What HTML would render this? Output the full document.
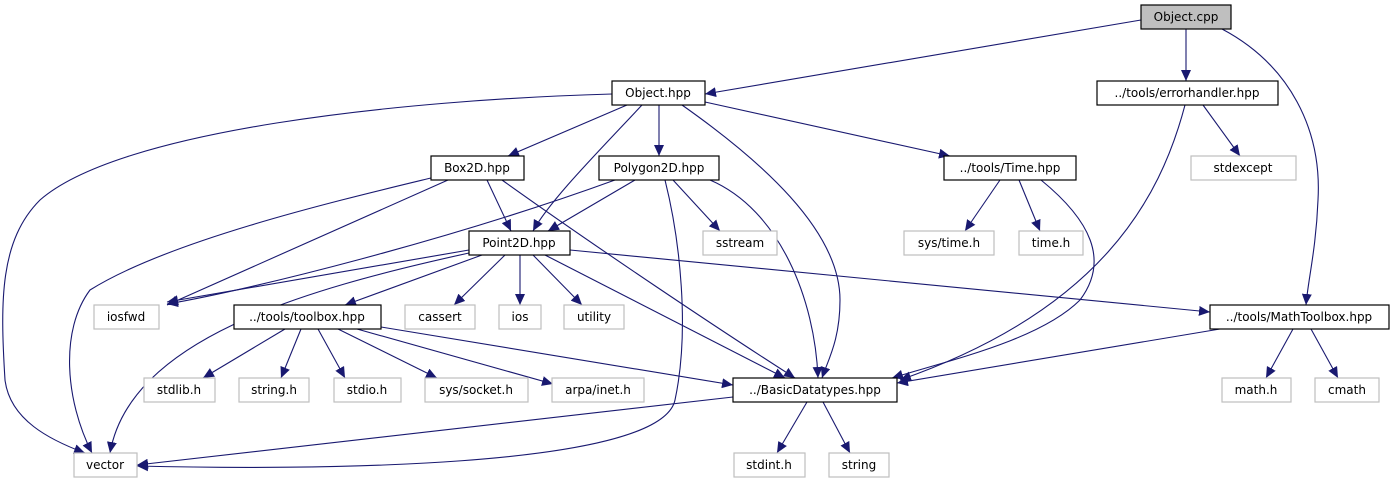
<!DOCTYPE html>
<html><head><meta charset="utf-8"><style>
html,body{margin:0;padding:0;background:#fff;}
svg{display:block;}
text{font-family:"DejaVu Sans","Liberation Sans",sans-serif;font-size:12px;fill:#000;text-anchor:middle;}
.n{fill:#fff;stroke:#000;stroke-width:1.2;}
.g{fill:#fff;stroke:#bfbfbf;stroke-width:1.2;}
.e{fill:none;stroke:#191970;stroke-width:1.1;}
</style></head><body>
<svg width="1393" height="485" viewBox="0 0 1393 485" xmlns="http://www.w3.org/2000/svg">
<defs><marker id="a" markerUnits="userSpaceOnUse" markerWidth="12" markerHeight="10" refX="11" refY="5" orient="auto"><path d="M0,0 L11,5 L0,10 z" fill="#191970"/></marker></defs>
<g marker-end="url(#a)">
<path class="e" d="M1141,20 L705,94"/>
<path class="e" d="M1186,29 L1186,81"/>
<path class="e" d="M1222,29 C1290,65 1322,130 1318,200 C1316,250 1308,280 1306,305"/>
<path class="e" d="M612,94 C400,100 120,130 40,200 C0,240 0,300 5,380 C10,420 50,440 85,453"/>
<path class="e" d="M627,105 L508,156"/>
<path class="e" d="M642,105 C600,150 550,200 533,231"/>
<path class="e" d="M659,105 L659,156"/>
<path class="e" d="M682,105 C760,160 840,230 840,300 C840,340 828,360 822,378"/>
<path class="e" d="M705,102 L950,156"/>
<path class="e" d="M1203,105 L1240,156"/>
<path class="e" d="M1185,105 C1160,200 1100,310 900,380"/>
<path class="e" d="M431,178 C340,200 170,240 90,290 C60,330 65,400 92,453"/>
<path class="e" d="M448,180 L167,305"/>
<path class="e" d="M487,180 L511,231"/>
<path class="e" d="M502,180 C600,250 720,330 795,378"/>
<path class="e" d="M615,180 C450,240 250,290 167,304"/>
<path class="e" d="M635,180 L548,231"/>
<path class="e" d="M673,180 L720,231"/>
<path class="e" d="M665,180 C680,240 690,330 675,400 C660,470 300,470 137,466"/>
<path class="e" d="M710,180 C780,210 815,300 818,378"/>
<path class="e" d="M1000,180 L965,231"/>
<path class="e" d="M1019,180 L1040,231"/>
<path class="e" d="M1041,180 C1090,220 1110,260 1080,300 C1040,340 950,360 892,378"/>
<path class="e" d="M469,250 L167,302"/>
<path class="e" d="M469,253 C300,290 130,340 110,453"/>
<path class="e" d="M482,255 L345,305"/>
<path class="e" d="M505,255 L454,305"/>
<path class="e" d="M520,255 L520,305"/>
<path class="e" d="M533,255 L582,305"/>
<path class="e" d="M545,255 L785,378"/>
<path class="e" d="M570,250 L1210,312"/>
<path class="e" d="M285,329 L203,378"/>
<path class="e" d="M301,329 L281,378"/>
<path class="e" d="M318,329 L345,378"/>
<path class="e" d="M338,329 L437,378"/>
<path class="e" d="M357,329 L553,384"/>
<path class="e" d="M381,327 L733,385"/>
<path class="e" d="M1220,329 L897,383"/>
<path class="e" d="M1293,329 L1266,378"/>
<path class="e" d="M1311,329 L1338,378"/>
<path class="e" d="M733,397 L137,465"/>
<path class="e" d="M807,402 L777,453"/>
<path class="e" d="M823,402 L850,453"/>
</g>
<rect x="1141" y="5" width="90" height="24" fill="#bfbfbf" stroke="#000" stroke-width="1.2"/><text x="1186" y="21">Object.cpp</text>
<rect class="n" x="612" y="81" width="93" height="24"/><text x="658" y="97">Object.hpp</text>
<rect class="n" x="1097" y="81" width="181" height="24"/><text x="1187" y="97">../tools/errorhandler.hpp</text>
<rect class="n" x="431" y="156" width="93" height="24"/><text x="477" y="172">Box2D.hpp</text>
<rect class="n" x="599" y="156" width="120" height="24"/><text x="659" y="172">Polygon2D.hpp</text>
<rect class="n" x="944" y="156" width="132" height="24"/><text x="1010" y="172">../tools/Time.hpp</text>
<rect class="g" x="1191" y="156" width="105" height="24"/><text x="1243" y="172">stdexcept</text>
<rect class="n" x="469" y="231" width="101" height="24"/><text x="519" y="247">Point2D.hpp</text>
<rect class="g" x="703" y="231" width="74" height="24"/><text x="740" y="247">sstream</text>
<rect class="g" x="904" y="231" width="90" height="24"/><text x="949" y="247">sys/time.h</text>
<rect class="g" x="1019" y="231" width="64" height="24"/><text x="1051" y="247">time.h</text>
<rect class="g" x="94" y="305" width="65" height="24"/><text x="126" y="321">iosfwd</text>
<rect class="n" x="234" y="305" width="147" height="24"/><text x="307" y="321">../tools/toolbox.hpp</text>
<rect class="g" x="405" y="305" width="70" height="24"/><text x="440" y="321">cassert</text>
<rect class="g" x="499" y="305" width="42" height="24"/><text x="520" y="321">ios</text>
<rect class="g" x="564" y="305" width="60" height="24"/><text x="594" y="321">utility</text>
<rect class="n" x="1210" y="305" width="179" height="24"/><text x="1299" y="321">../tools/MathToolbox.hpp</text>
<rect class="g" x="144" y="378" width="71" height="24"/><text x="179" y="394">stdlib.h</text>
<rect class="g" x="239" y="378" width="70" height="24"/><text x="274" y="394">string.h</text>
<rect class="g" x="334" y="378" width="67" height="24"/><text x="367" y="394">stdio.h</text>
<rect class="g" x="425" y="378" width="103" height="24"/><text x="476" y="394">sys/socket.h</text>
<rect class="g" x="552" y="378" width="92" height="24"/><text x="598" y="394">arpa/inet.h</text>
<rect class="n" x="733" y="378" width="164" height="24"/><text x="815" y="394">../BasicDatatypes.hpp</text>
<rect class="g" x="1222" y="378" width="69" height="24"/><text x="1256" y="394">math.h</text>
<rect class="g" x="1315" y="378" width="64" height="24"/><text x="1347" y="394">cmath</text>
<rect class="g" x="74" y="453" width="63" height="24"/><text x="105" y="469">vector</text>
<rect class="g" x="734" y="453" width="71" height="24"/><text x="769" y="469">stdint.h</text>
<rect class="g" x="829" y="453" width="60" height="24"/><text x="859" y="469">string</text>
</svg>
</body></html>
